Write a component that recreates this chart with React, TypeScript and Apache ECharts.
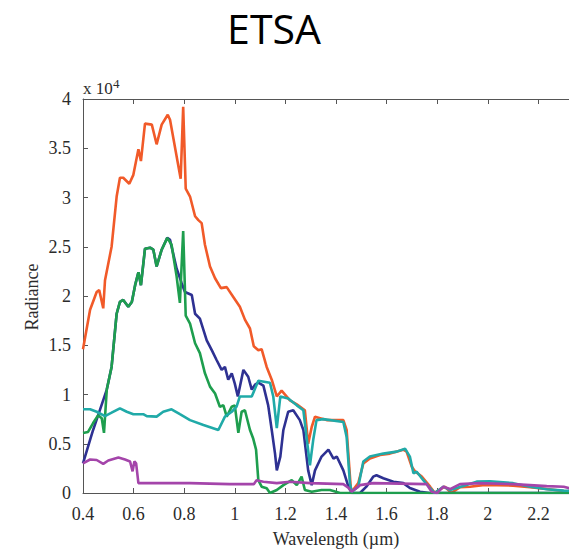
import React, { useEffect, useRef } from "react";
import * as echarts from "echarts";

// Wavelength (µm) and radiance (×10^4) samples for each spectrum
const orangeX = [0.40,0.428,0.454,0.464,0.48,0.487,0.513,0.533,0.546,0.559,0.583,0.599,0.619,0.629,0.645,0.672,0.691,0.711,0.735,0.744,0.786,0.796,0.806,0.823,0.843,0.856,0.869,0.882,0.902,0.922,0.945,0.968,0.994,1.02,1.04,1.06,1.075,1.093,1.106,1.126,1.146,1.166,1.185,1.218,1.245,1.277,1.29,1.304,1.317,1.337,1.363,1.429,1.442,1.458,1.462,1.488,1.508,1.534,1.574,1.613,1.666,1.679,1.699,1.712,1.739,1.772,1.791,1.80,1.83,1.844,1.856,1.89,1.93,1.98,2.035,2.1,2.167,2.233,2.3,2.35];
const orangeY = [1.46,1.86,2.04,2.06,1.875,2.16,2.5,3.01,3.2,3.2,3.14,3.23,3.49,3.37,3.75,3.74,3.54,3.74,3.84,3.79,3.19,3.92,3.09,3.01,2.81,2.77,2.74,2.52,2.3,2.18,2.08,2.09,1.99,1.89,1.76,1.67,1.49,1.45,1.46,1.28,1.15,0.98,1.04,0.94,0.9,0.84,0.5,0.67,0.775,0.76,0.74,0.74,0.64,0.064,0.013,0.1,0.3,0.35,0.386,0.4,0.44,0.42,0.27,0.22,0.166,0.064,0.0,0.02,0.064,0.03,0.0,0.06,0.064,0.08,0.08,0.075,0.06,0.04,0.02,0.01];

const blueX = [0.40,0.428,0.44,0.46,0.494,0.513,0.533,0.546,0.559,0.579,0.593,0.606,0.619,0.629,0.645,0.665,0.678,0.691,0.711,0.733,0.744,0.77,0.79,0.803,0.83,0.843,0.862,0.889,0.909,0.928,0.948,0.961,0.974,0.988,1.0,1.012,1.034,1.053,1.067,1.08,1.093,1.113,1.132,1.146,1.159,1.166,1.18,1.192,1.211,1.231,1.257,1.271,1.29,1.304,1.317,1.343,1.37,1.39,1.403,1.429,1.449,1.462,1.495,1.52,1.547,1.56,1.587,1.627,1.666,1.692,1.732,1.77,2.35];
const blueY = [0.30,0.54,0.64,0.79,1.05,1.28,1.82,1.94,1.96,1.89,1.94,2.11,2.24,2.11,2.48,2.49,2.47,2.30,2.47,2.59,2.57,2.28,2.13,2.04,2.01,1.82,1.77,1.55,1.45,1.35,1.25,1.28,1.15,1.215,1.11,0.98,1.25,1.18,1.05,1.10,1.12,1.09,0.89,0.64,0.40,0.23,0.37,0.64,0.825,0.84,0.74,0.64,0.23,0.08,0.23,0.37,0.44,0.35,0.37,0.23,0.064,0.0,0.0,0.064,0.166,0.18,0.15,0.115,0.1,0.05,0.013,0.0,0.0];

const greenX = [0.40,0.42,0.44,0.46,0.474,0.483,0.494,0.513,0.533,0.546,0.559,0.579,0.593,0.606,0.619,0.629,0.645,0.665,0.678,0.691,0.711,0.733,0.75,0.77,0.783,0.796,0.806,0.823,0.843,0.862,0.882,0.902,0.922,0.941,0.955,0.968,0.988,1.0,1.014,1.027,1.04,1.06,1.073,1.084,1.093,1.106,1.126,1.139,1.166,1.192,1.225,1.245,1.264,1.277,1.304,1.343,1.376,1.416,2.35];
const greenY = [0.61,0.62,0.71,0.79,0.76,0.61,1.05,1.28,1.82,1.94,1.96,1.89,1.94,2.11,2.24,2.11,2.48,2.49,2.47,2.30,2.47,2.59,2.52,2.20,1.93,2.66,1.80,1.72,1.52,1.42,1.215,1.08,1.01,0.876,0.89,0.775,0.876,0.89,0.61,0.825,0.84,0.64,0.55,0.44,0.13,0.064,0.048,0.0,0.03,0.08,0.13,0.08,0.166,0.03,0.013,0.03,0.03,0.0,0.0];

const tealX = [0.40,0.428,0.454,0.487,0.513,0.546,0.573,0.599,0.638,0.652,0.691,0.717,0.75,0.783,0.823,0.876,0.935,0.961,0.988,1.007,1.02,1.067,1.093,1.139,1.152,1.166,1.18,1.211,1.245,1.271,1.297,1.31,1.323,1.35,1.429,1.442,1.455,1.462,1.488,1.508,1.534,1.587,1.64,1.673,1.692,1.706,1.719,1.745,1.772,1.79,1.824,1.851,1.89,1.956,2.008,2.1,2.167,2.233,2.3,2.35];
const tealY = [0.85,0.85,0.825,0.78,0.815,0.86,0.825,0.80,0.80,0.78,0.775,0.825,0.85,0.80,0.74,0.69,0.64,0.775,0.825,0.876,0.98,0.98,1.14,1.12,0.98,0.66,0.98,0.96,0.89,0.84,0.28,0.54,0.74,0.75,0.72,0.57,0.1,0.013,0.064,0.32,0.37,0.40,0.42,0.45,0.37,0.2,0.216,0.13,0.048,0.0,0.064,0.03,0.06,0.115,0.12,0.1,0.064,0.038,0.024,0.02];

const magentaX = [0.40,0.428,0.454,0.48,0.50,0.54,0.566,0.586,0.596,0.603,0.61,0.619,0.823,0.98,1.075,1.086,1.113,1.166,1.218,1.297,1.429,1.45,1.462,1.495,1.547,1.758,1.778,1.80,1.824,1.851,1.89,1.968,2.1,2.233,2.3,2.35];
const magentaY = [0.30,0.34,0.335,0.295,0.33,0.36,0.34,0.32,0.22,0.32,0.30,0.10,0.10,0.09,0.09,0.13,0.115,0.10,0.115,0.10,0.09,0.05,0.013,0.08,0.1,0.09,0.013,0.0,0.064,0.04,0.09,0.1,0.09,0.07,0.064,0.03];

const serif = '"Liberation Serif", "Times New Roman", serif';

const pairs = (xs: number[], ys: number[]) => xs.map((x, i) => [x, ys[i]]);

const spectra = [
  { name: "orange", color: "#F15A29", x: orangeX, y: orangeY },
  { name: "blue", color: "#2E3192", x: blueX, y: blueY },
  { name: "green", color: "#1E9E4E", x: greenX, y: greenY },
  { name: "teal", color: "#20AAA8", x: tealX, y: tealY },
  { name: "magenta", color: "#A445AA", x: magentaX, y: magentaY },
];

export default function App() {
  const ref = useRef<HTMLDivElement>(null);

  useEffect(() => {
    if (!ref.current) return;
    const chart = echarts.init(ref.current, undefined, { renderer: "svg" });
    const axisLine = { lineStyle: { color: "#555", width: 1 } };
    const tick = { inside: true, length: 5, lineStyle: { color: "#555" } };
    chart.setOption({
      animation: false,
      backgroundColor: "#fff",
      // the plot frame runs on past the right edge of the page
      grid: {
        left: 83,
        top: 99,
        width: 506,
        height: 394,
        containLabel: false,
        outerBoundsMode: "none",
      },
      xAxis: [
        {
          type: "value",
          min: 0.4,
          max: 2.4,
          interval: 0.2,
          position: "bottom",
          axisLine,
          axisTick: tick,
          splitLine: { show: false },
          axisLabel: {
            margin: 12,
            fontSize: 18,
            fontFamily: serif,
            color: "#2b2b2b",
            showMaxLabel: false,
            formatter: (v: number) => (v > 2.3 ? "" : String(Math.round(v * 10) / 10)),
          },
        },
        {
          type: "value",
          min: 0.4,
          max: 2.4,
          interval: 0.2,
          position: "top",
          axisLine,
          axisTick: tick,
          splitLine: { show: false },
          axisLabel: { show: false },
        },
      ],
      yAxis: {
        type: "value",
        min: 0,
        max: 4,
        interval: 0.5,
        axisLine: { show: true, ...axisLine },
        axisTick: { show: true, ...tick },
        splitLine: { show: false },
        axisLabel: {
          margin: 12,
          fontSize: 18,
          fontFamily: serif,
          color: "#2b2b2b",
        },
      },
      series: spectra.map((s) => ({
        name: s.name,
        type: "line",
        xAxisIndex: 0,
        data: pairs(s.x, s.y),
        showSymbol: false,
        symbol: "none",
        lineStyle: { color: s.color, width: 2.6 },
        itemStyle: { color: s.color },
        clip: true,
      })),
      graphic: [
        {
          type: "text",
          x: 274,
          y: 28,
          style: {
            text: "ETSA",
            fontSize: 41,
            fontFamily: '"Open Sans", "Noto Sans", sans-serif',
            fill: "#000",
            align: "center",
            verticalAlign: "middle",
          },
        },
        {
          type: "text",
          x: 83,
          y: 88,
          style: {
            text: "x 10",
            fontSize: 17,
            fontFamily: serif,
            fill: "#2b2b2b",
            align: "left",
            verticalAlign: "middle",
          },
        },
        {
          type: "text",
          x: 113,
          y: 83,
          style: {
            text: "4",
            fontSize: 13,
            fontFamily: serif,
            fill: "#2b2b2b",
            align: "left",
            verticalAlign: "middle",
          },
        },
        {
          type: "text",
          x: 32,
          y: 297,
          rotation: Math.PI / 2,
          style: {
            text: "Radiance",
            fontSize: 18,
            fontFamily: serif,
            fill: "#2b2b2b",
            align: "center",
            verticalAlign: "middle",
          },
        },
        {
          type: "text",
          x: 336,
          y: 539,
          style: {
            text: "Wavelength (µm)",
            fontSize: 18,
            fontFamily: serif,
            fill: "#2b2b2b",
            align: "center",
            verticalAlign: "middle",
          },
        },
      ],
    });
    return () => chart.dispose();
  }, []);

  return (
    <div
      ref={ref}
      style={{ position: "absolute", left: 0, top: 0, width: 569, height: 553, overflow: "hidden" }}
    />
  );
}
